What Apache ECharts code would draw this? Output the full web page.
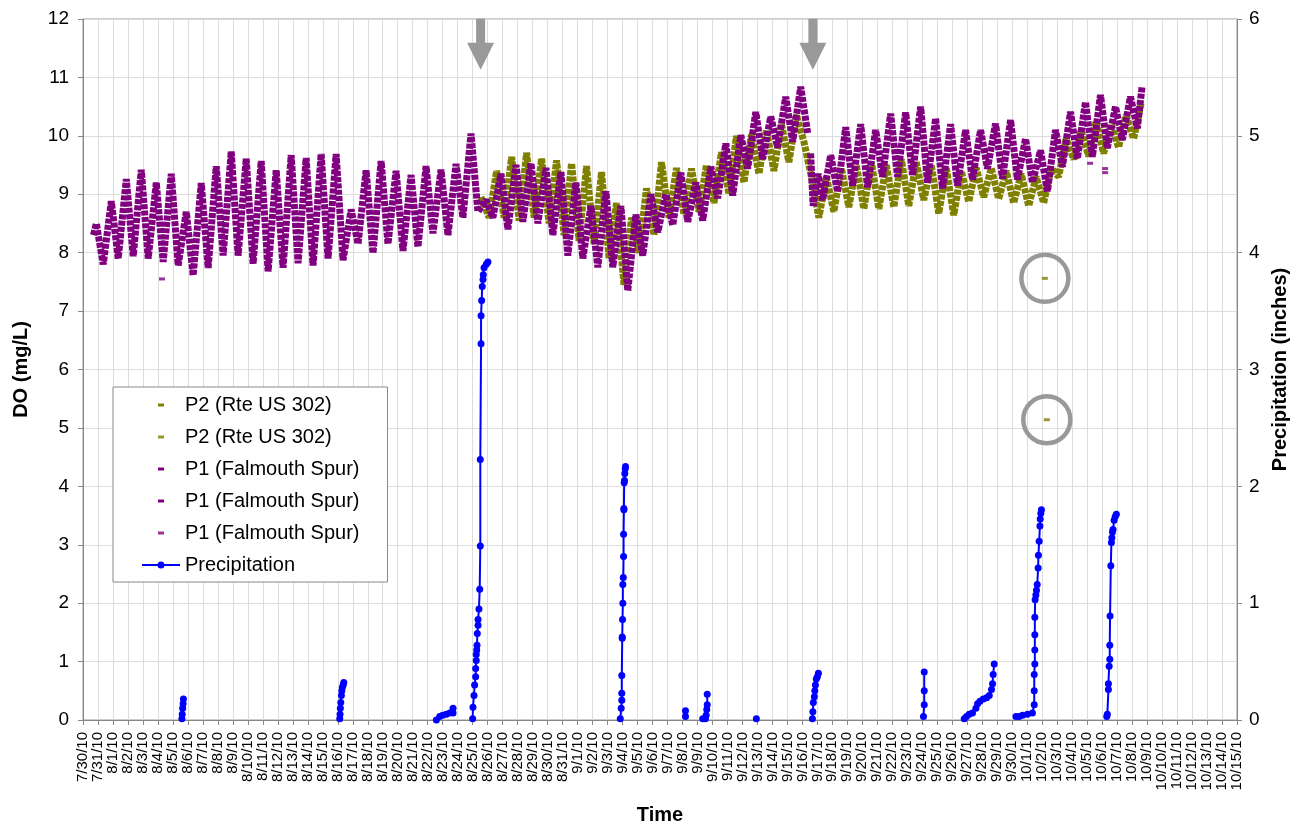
<!DOCTYPE html>
<html>
<head>
<meta charset="utf-8">
<script src="https://cdn.jsdelivr.net/npm/echarts@6.0.0/dist/echarts.min.js"></script>
<style>
  html, body { margin: 0; padding: 0; background: #fff; }
  #root { width: 1294px; height: 825px; }
</style>
</head>
<body>
<div id="root"></div>
<script>
// x values are days after 7/30/10 (0 = 7/30/10 00:00)
const firstDate = [2010, 6, 30]
const lastDay = 77

// P1 (Falmouth Spur), DO mg/L, before the 9/17 break
const p1aLead = [[0.7, 8.3], [0.89, 8.5]]
const p1aLows = [ // days 1..48, early morning
  7.8, 7.9, 7.94, 7.9, 7.84, 7.78, 7.61, 7.74, 7.95, 7.95,
  7.81, 7.68, 7.74, 7.82, 7.78, 7.9, 7.87, 8.15, 7.99, 8.15,
  8.03, 8.1, 8.33, 8.3, 8.6, 8.7, 8.6, 8.4, 8.53, 8.5,
  8.3, 7.95, 7.9, 7.75, 7.75, 7.35, 7.95, 8.35, 8.47, 8.53,
  8.55, 8.93, 8.98, 9.44, 9.6, 9.8, 9.9, 10.05
]
const p1aPeaks = [ // days 1..47, evening
  8.88, 9.26, 9.42, 9.2, 9.35, 8.7, 9.19, 9.48, 9.73, 9.61,
  9.57, 9.41, 9.67, 9.62, 9.69, 9.69, 8.74, 9.41, 9.57, 9.4,
  9.33, 9.48, 9.42, 9.52, 10.04, 8.9, 9.35, 9.5, 9.53, 9.45,
  9.38, 9.2, 8.8, 9.05, 8.8, 8.65, 9.0, 9.0, 9.37, 9.2,
  9.47, 9.87, 10.01, 10.41, 10.33, 10.67, 10.84
]

// P1 after the 9/17 break
const p1bLead = [[48.55, 9.7], [48.72, 8.8], [49.05, 9.35]]
const p1bLows = [ // days 49..70
  8.9, 9.04, 9.15, 9.12, 9.3, 9.3, 9.33, 9.2, 9.1, 9.15,
  9.25, 9.44, 9.27, 9.25, 9.2, 9.05, 9.47, 9.61, 9.64, 9.79,
  9.93, 10.13
]
const p1bPeaks = [ // days 49..69
  9.67, 10.15, 10.2, 10.1, 10.38, 10.4, 10.5, 10.3, 10.2, 10.1,
  10.1, 10.21, 10.27, 9.95, 9.75, 10.1, 10.41, 10.58, 10.7, 10.5,
  10.67
]
const p1bTail = [[70.67, 10.85]]
const p1Odd = [[5.27, 7.55], [67.2, 9.53], [68.2, 9.44], [68.2, 9.37]]

// P2 (Rte US 302)
const p2Lead = [[26.55, 8.95], [26.8, 8.8]]
const p2Lows = [ // days 27..70
  8.6, 8.6, 8.55, 8.6, 8.5, 8.3, 8.2, 8.15, 7.9, 7.45,
  8.0, 8.3, 8.6, 8.65, 8.7, 8.85, 9.0, 9.2, 9.35, 9.4,
  9.55, 9.9, 8.6, 8.7, 8.78, 8.75, 8.75, 8.78, 8.8, 8.9,
  8.67, 8.64, 8.87, 8.95, 8.92, 8.85, 8.8, 8.85, 9.3, 9.6,
  9.65, 9.7, 9.8, 9.95
]
const p2Peaks = [ // days 27..69
  9.4, 9.64, 9.71, 9.61, 9.58, 9.53, 9.48, 9.38, 8.85, 8.6,
  9.1, 9.55, 9.45, 9.44, 9.5, 9.72, 10.0, 10.02, 10.1, 10.2,
  10.36, 9.3, 9.3, 9.45, 9.5, 9.55, 9.5, 9.6, 9.55, 9.5,
  9.45, 9.4, 9.45, 9.45, 9.4, 9.35, 9.3, 9.45, 9.95, 10.1,
  10.25, 10.2, 10.35
]
const p2Tail = [[70.6, 10.55]]
const p2Odd = [[64.18, 7.56], [64.31, 5.14]]

// cumulative precipitation (inches) for each storm
const rainEvents = [
  [[6.6, 0.01], [6.62, 0.05], [6.65, 0.1], [6.68, 0.14], [6.7, 0.18]],
  [[17.13, 0.01], [17.15, 0.05], [17.17, 0.1], [17.2, 0.15], [17.24, 0.21], [17.27, 0.25], [17.31, 0.28], [17.36, 0.3], [17.4, 0.32]],
  [[23.58, 0.0], [23.8, 0.03], [24.0, 0.04], [24.24, 0.05], [24.47, 0.06], [24.69, 0.06], [24.69, 0.1]],
  [[26.0, 0.01], [26.02, 0.11], [26.09, 0.21], [26.13, 0.3], [26.2, 0.37], [26.2, 0.44], [26.24, 0.51], [26.24, 0.56],
   [26.27, 0.6], [26.29, 0.64], [26.31, 0.74], [26.36, 0.81], [26.36, 0.86], [26.42, 0.95], [26.47, 1.12], [26.51, 1.49],
   [26.51, 2.23], [26.56, 3.22], [26.56, 3.46], [26.6, 3.59], [26.64, 3.71], [26.69, 3.77], [26.71, 3.81], [26.76, 3.87],
   [26.91, 3.9], [27.02, 3.92]],
  [[35.85, 0.01], [35.91, 0.1], [35.95, 0.17], [35.95, 0.23], [35.95, 0.38], [35.98, 0.7], [35.98, 0.71], [36.0, 0.86],
   [36.02, 1.0], [36.02, 1.16], [36.05, 1.22], [36.07, 1.4], [36.07, 1.59], [36.09, 1.8], [36.09, 1.81], [36.11, 2.03],
   [36.13, 2.05], [36.15, 2.11], [36.18, 2.15], [36.2, 2.17]],
  [[40.2, 0.03], [40.2, 0.08]],
  [[41.35, 0.01], [41.53, 0.01], [41.58, 0.04], [41.62, 0.09], [41.65, 0.13], [41.65, 0.22]],
  [[44.93, 0.01]],
  [[48.67, 0.01], [48.7, 0.07], [48.73, 0.15], [48.8, 0.2], [48.83, 0.25], [48.87, 0.3], [48.93, 0.35], [49.0, 0.37], [49.07, 0.4]],
  [[56.08, 0.03], [56.13, 0.13], [56.13, 0.25], [56.13, 0.41]],
  [[58.8, 0.01], [58.95, 0.03], [59.13, 0.05], [59.35, 0.06], [59.58, 0.1], [59.69, 0.14], [59.85, 0.16], [60.07, 0.18],
   [60.29, 0.19], [60.47, 0.21], [60.62, 0.26], [60.69, 0.31], [60.73, 0.39], [60.8, 0.48]],
  [[62.25, 0.03], [62.47, 0.03], [62.69, 0.04], [63.02, 0.05], [63.35, 0.06], [63.47, 0.13], [63.47, 0.25], [63.47, 0.39],
   [63.51, 0.48], [63.51, 0.6], [63.51, 0.73], [63.51, 0.88], [63.53, 1.03], [63.58, 1.07], [63.62, 1.11], [63.67, 1.16],
   [63.73, 1.3], [63.75, 1.41], [63.8, 1.53], [63.85, 1.66], [63.87, 1.72], [63.91, 1.77], [63.95, 1.8]],
  [[68.31, 0.03], [68.35, 0.05], [68.42, 0.26], [68.42, 0.31], [68.47, 0.46], [68.51, 0.52], [68.51, 0.64], [68.53, 0.89],
   [68.58, 1.32], [68.62, 1.52], [68.65, 1.56], [68.69, 1.61], [68.73, 1.63], [68.8, 1.71], [68.87, 1.74], [68.95, 1.76]]
]

// gray arrows over the two events
const arrowDays = [26.53, 48.7]

const P1 = 'P1 (Falmouth Spur)'
const P2 = 'P2 (Rte US 302)'
const purple = '#800080'
const olive = '#808000'
const font = 'Liberation Sans, Arial, sans-serif'

const dayLabel = d => {
  const dt = new Date(firstDate[0], firstDate[1], firstDate[2] + d)
  return (dt.getMonth() + 1) + '/' + dt.getDate() + '/10'
}

// daily low / high pairs -> time ordered points
const zigzag = (firstDay, lows, peaks, lowAt, peakAt) => {
  const pts = []
  lows.forEach((v, i) => {
    pts.push([firstDay + i + lowAt, v])
    if (peaks[i] != null) pts.push([firstDay + i + peakAt, peaks[i]])
  })
  return pts
}

const p1a = [...p1aLead, ...zigzag(1, p1aLows, p1aPeaks, 0.35, 0.89)]
const p1b = [...p1bLead, ...zigzag(49, p1bLows, p1bPeaks, 0.35, 0.89), ...p1bTail]
const p2a = [...p2Lead, ...zigzag(27, p2Lows, p2Peaks, 0.1, 0.6), ...p2Tail]
const rain = rainEvents.flatMap((ev, i) => i ? [[null, null], ...ev] : ev)

const doLine = (name, data, color) => ({
  name,
  type: 'line',
  data,
  color,
  symbol: 'none',
  silent: true,
  lineStyle: { width: 7, color, type: [5, 1.3], cap: 'butt', join: 'bevel' }
})

const doDots = (name, data, color) => ({
  name,
  type: 'scatter',
  data,
  color,
  symbol: 'rect',
  symbolSize: [6, 3],
  silent: true
})

const dashIcon = 'path://M0,0M38,18M16,7.5h6v3h-6z'
const rainIcon = 'path://M0,0M38,18M0,8h38v2h-38zM19,5.5a3.5,3.5 0 1,1 0,7a3.5,3.5 0 1,1 0,-7z'
const arrowIcon = 'path://M9,0H18V24H27L13.5,51L0,24H9Z'

const series = [
  doLine(P2, p2a, olive),
  {
    ...doDots(P2 + '\u200b', p2Odd, olive),
    markPoint: {
      symbol: 'circle',
      symbolSize: 47,
      silent: true,
      label: { show: false },
      itemStyle: { color: 'rgba(0,0,0,0)', borderColor: '#999', borderWidth: 4.5 },
      data: p2Odd.map(c => ({ coord: c }))
    }
  },
  {
    ...doLine(P1, p1a, purple),
    markPoint: {
      symbol: arrowIcon,
      symbolSize: [27, 51],
      symbolOffset: [0, '-50%'],
      silent: true,
      label: { show: false },
      itemStyle: { color: '#999' },
      data: arrowDays.map(d => ({ coord: [d, 11.13] }))
    }
  },
  doLine(P1 + '\u200b', p1b, purple),
  doDots(P1 + '\u200b\u200b', p1Odd, purple),
  {
    name: 'Precipitation',
    type: 'line',
    yAxisIndex: 1,
    data: rain,
    color: '#0000ff',
    symbol: 'circle',
    symbolSize: 7,
    showSymbol: true,
    silent: true,
    lineStyle: { width: 2, color: '#0000ff' },
    itemStyle: { color: '#0000ff' }
  }
]

const axisColor = '#888'
const option = {
  animation: false,
  backgroundColor: '#fff',
  grid: {
    left: 83, right: 57, top: 19, bottom: 105,
    outerBoundsMode: 'none',
    show: true, borderColor: '#999', borderWidth: 1
  },
  legend: {
    orient: 'vertical',
    left: 113,
    top: 387,
    padding: [8, 28, 7, 29],
    itemGap: 12,
    itemWidth: 38,
    itemHeight: 18,
    backgroundColor: '#fff',
    borderColor: '#888',
    borderWidth: 1,
    textStyle: { fontFamily: font, fontSize: 20, color: '#000' },
    itemStyle: { borderWidth: 0 },
    data: [
      { name: P2, icon: dashIcon },
      { name: P2 + '\u200b', icon: dashIcon },
      { name: P1, icon: dashIcon },
      { name: P1 + '\u200b', icon: dashIcon },
      { name: P1 + '\u200b\u200b', icon: dashIcon },
      { name: 'Precipitation', icon: rainIcon }
    ]
  },
  xAxis: {
    type: 'value',
    min: 0,
    max: lastDay,
    interval: 1,
    name: 'Time',
    nameLocation: 'middle',
    nameGap: 85,
    nameTextStyle: { fontFamily: font, fontWeight: 'bold', fontSize: 20, color: '#000', verticalAlign: 'top' },
    axisLine: { onZero: false, lineStyle: { color: axisColor } },
    axisTick: { length: 5, lineStyle: { color: axisColor } },
    axisLabel: { rotate: 90, fontSize: 15, margin: 12, color: '#000', fontFamily: font, formatter: dayLabel },
    splitLine: { show: true, lineStyle: { color: '#ddd' } }
  },
  yAxis: [
    {
      type: 'value',
      position: 'left',
      min: 0,
      max: 12,
      interval: 1,
      name: 'DO (mg/L)',
      nameLocation: 'middle',
      nameRotate: 90,
      nameGap: 52,
      nameTextStyle: { fontFamily: font, fontWeight: 'bold', fontSize: 20, color: '#000' },
      axisLine: { show: true, lineStyle: { color: axisColor } },
      axisTick: { show: true, length: 5, lineStyle: { color: axisColor } },
      axisLabel: { fontSize: 19, margin: 14, color: '#000', fontFamily: font },
      splitLine: { show: true, lineStyle: { color: '#ddd' } }
    },
    {
      type: 'value',
      position: 'right',
      min: 0,
      max: 6,
      interval: 1,
      name: 'Precipitation (inches)',
      nameLocation: 'middle',
      nameRotate: 90,
      nameGap: 33,
      nameTextStyle: { fontFamily: font, fontWeight: 'bold', fontSize: 20, color: '#000' },
      axisLine: { show: true, lineStyle: { color: axisColor } },
      axisTick: { show: true, length: 5, lineStyle: { color: axisColor } },
      axisLabel: { fontSize: 19, margin: 12, color: '#000', fontFamily: font },
      splitLine: { show: false }
    }
  ],
  series
}

const chart = echarts.init(document.getElementById('root'), null, { renderer: 'canvas' })
chart.setOption(option)
</script>
</body>
</html>
